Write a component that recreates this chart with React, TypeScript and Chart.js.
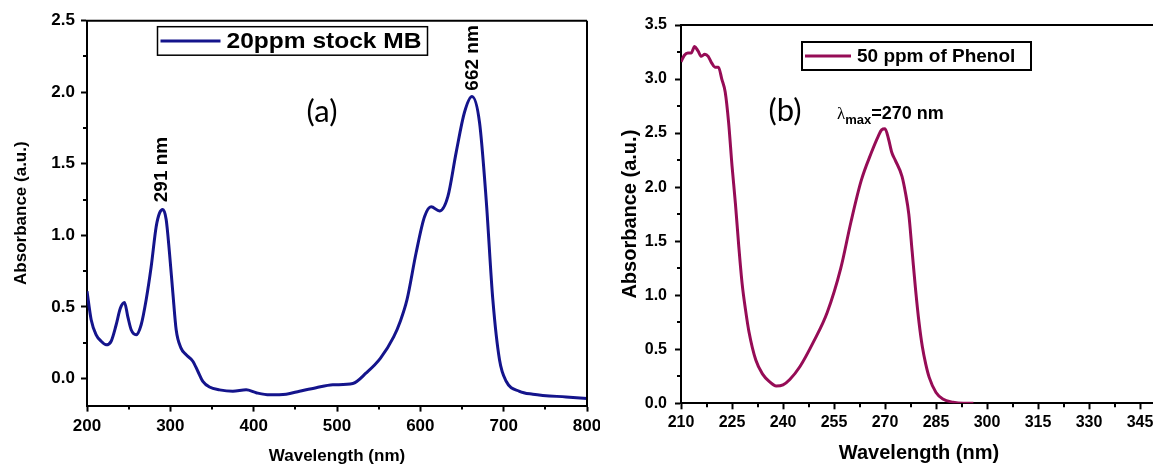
import React, { useEffect, useRef } from 'react';
import { Chart, registerables } from 'chart.js';

Chart.register(...registerables);

// ---------------- Data ----------------
// (a) 20 ppm stock methylene blue
const mbWavelengths = [200, 205, 211, 217, 223, 229, 235, 240, 245, 249, 253, 259, 265, 271, 277, 283, 287, 291, 295, 299, 303, 307, 313, 319, 327, 333, 339, 347, 359, 375, 391, 403, 419, 439, 455, 475, 495, 519, 535, 552, 568, 576, 584, 595, 605, 613, 623, 633, 643, 653, 662, 671, 679, 687, 695, 703, 719, 735, 775, 800];
const mbAbsorbance = [0.61, 0.41, 0.305, 0.26, 0.235, 0.26, 0.375, 0.49, 0.53, 0.43, 0.34, 0.305, 0.375, 0.55, 0.78, 1.06, 1.155, 1.18, 1.11, 0.876, 0.6, 0.34, 0.21, 0.165, 0.12, 0.05, -0.02, -0.06, -0.08, -0.09, -0.08, -0.1, -0.115, -0.11, -0.09, -0.065, -0.045, -0.035, 0.038, 0.14, 0.29, 0.4, 0.55, 0.88, 1.13, 1.2, 1.17, 1.27, 1.58, 1.86, 1.97, 1.79, 1.25, 0.55, 0.13, -0.02, -0.09, -0.11, -0.13, -0.14];
const mbXTicks = [200, 300, 400, 500, 600, 700, 800];
const mbXMinor = [250, 350, 450, 550, 650, 750];
const mbYTicks = [0, 0.5, 1.0, 1.5, 2.0, 2.5];
const mbYMinor = [0.25, 0.75, 1.25, 1.75, 2.25];

// (b) 50 ppm phenol
const phWavelengths = [210, 211, 212, 213, 214, 215, 216, 217, 218, 219, 220, 221, 222, 223, 224, 225, 226, 227, 228, 229, 230, 232, 234, 236, 238, 240, 242, 245, 249, 253, 257, 260, 263, 266, 268, 269, 270, 271, 272, 273, 275, 276, 277, 278, 279, 280, 281, 282, 283, 285, 287, 290, 293, 296];
const phAbsorbance = [3.16, 3.22, 3.24, 3.24, 3.3, 3.26, 3.21, 3.23, 3.21, 3.15, 3.11, 3.11, 3.0, 2.88, 2.6, 2.2, 1.85, 1.45, 1.1, 0.86, 0.66, 0.4, 0.27, 0.2, 0.16, 0.17, 0.22, 0.34, 0.57, 0.84, 1.25, 1.68, 2.06, 2.32, 2.47, 2.53, 2.54, 2.45, 2.32, 2.25, 2.1, 1.95, 1.75, 1.4, 1.05, 0.75, 0.52, 0.36, 0.24, 0.1, 0.04, 0.01, 0.0, 0.0];
const phXTicks = [210, 225, 240, 255, 270, 285, 300, 315, 330, 345];
const phXMinor = [217.5, 232.5, 247.5, 262.5, 277.5, 292.5, 307.5, 322.5, 337.5];
const phYTicks = [0, 0.5, 1.0, 1.5, 2.0, 2.5, 3.0, 3.5];
const phYMinor = [0.25, 0.75, 1.25, 1.75, 2.25, 2.75, 3.25];

const FAMILY = "'Liberation Sans', Arial, sans-serif";

type Note = { text: string; x: number; y: number; font: string; rotate?: boolean; lambda?: boolean };

type Panel = {
  xs: number[]; ys: number[]; label: string; color: string;
  xMin: number; xMax: number; yMin: number; yMax: number;
  xTicks: number[]; yTicks: number[]; xMinor: number[]; yMinor: number[];
  xDecimals: number;
  pad: { left: number; top: number; right: number; bottom: number };
  yAxisWidth: number; xAxisHeight: number;
  tickSize: number; titleSize: number;
  yTitlePad: number; xTitlePad: number; yTickPad: number; xTickPad: number;
  legend: { dx: number; dy: number; w: number; h: number; line: number; size: number; textW?: number; border: number };
  notes: Note[];
};

function makePlugin(p: Panel) {
  return {
    id: 'panelExtras',
    afterDraw(chart: any) {
      const { ctx, chartArea: a, scales } = chart;
      const sx = scales.x, sy = scales.y;
      ctx.save();
      ctx.strokeStyle = '#000';
      ctx.lineWidth = 2;
      ctx.beginPath();
      ctx.moveTo(a.left - 1, a.top);
      ctx.lineTo(a.right, a.top);
      ctx.moveTo(a.right, a.top);
      ctx.lineTo(a.right, a.bottom + 1);
      ctx.stroke();
      // minor ticks
      ctx.beginPath();
      for (const v of p.xMinor) {
        const px = Math.round(sx.getPixelForValue(v));
        ctx.moveTo(px, a.bottom);
        ctx.lineTo(px, a.bottom + 4);
      }
      for (const v of p.yMinor) {
        const py = Math.round(sy.getPixelForValue(v));
        ctx.moveTo(a.left, py);
        ctx.lineTo(a.left - 4, py);
      }
      ctx.stroke();

      // legend
      const ds = chart.data.datasets[0];
      const L = p.legend;
      const bx = a.left + L.dx, by = a.top + L.dy;
      ctx.fillStyle = '#fff';
      ctx.fillRect(bx, by, L.w, L.h);
      ctx.lineWidth = L.border;
      ctx.strokeStyle = '#000';
      ctx.strokeRect(bx, by, L.w, L.h);
      ctx.strokeStyle = ds.borderColor;
      ctx.lineWidth = 3;
      ctx.beginPath();
      ctx.moveTo(bx + 3, by + L.h / 2);
      ctx.lineTo(bx + 3 + L.line, by + L.h / 2);
      ctx.stroke();
      ctx.fillStyle = '#000';
      ctx.font = `bold ${L.size}px ${FAMILY}`;
      ctx.textBaseline = 'middle';
      ctx.textAlign = 'left';
      const tx = bx + 3 + L.line + 6;
      const mw = ctx.measureText(ds.label).width;
      const scaleX = L.textW ? L.textW / mw : 1;
      ctx.save();
      ctx.translate(tx, by + L.h / 2 + 1);
      ctx.scale(scaleX, 1);
      ctx.fillText(ds.label, 0, 0);
      ctx.restore();

      // annotations
      for (const n of p.notes) {
        const px = sx.getPixelForValue(n.x);
        const py = sy.getPixelForValue(n.y);
        ctx.fillStyle = '#000';
        if (n.lambda) {
          ctx.textBaseline = 'alphabetic';
          ctx.textAlign = 'left';
          ctx.font = `17px 'Liberation Serif', serif`;
          ctx.fillText('λ', px, py);
          const lw = ctx.measureText('λ').width;
          ctx.font = `bold 13px ${FAMILY}`;
          ctx.fillText('max', px + lw, py + 5);
          const mw2 = ctx.measureText('max').width;
          ctx.font = n.font;
          ctx.fillText(n.text, px + lw + mw2, py);
        } else if (n.rotate) {
          ctx.save();
          ctx.translate(px, py);
          ctx.rotate(-Math.PI / 2);
          ctx.font = n.font;
          ctx.textAlign = 'center';
          ctx.textBaseline = 'middle';
          ctx.fillText(n.text, 0, 0);
          ctx.restore();
        } else {
          ctx.font = n.font;
          ctx.textAlign = 'center';
          ctx.textBaseline = 'middle';
          ctx.fillText(n.text, px, py);
        }
      }
      ctx.restore();
    },
  };
}

function makeConfig(p: Panel): any {
  const tickFont = { family: FAMILY, size: p.tickSize, weight: 'bold' as const };
  const titleFont = { family: FAMILY, size: p.titleSize, weight: 'bold' as const };
  return {
    type: 'line',
    data: {
      datasets: [
        {
          label: p.label,
          data: p.xs.map((x, i) => ({ x, y: p.ys[i] })),
          borderColor: p.color,
          borderWidth: 3,
          pointRadius: 0,
          fill: false,
          cubicInterpolationMode: 'monotone',
        },
      ],
    },
    options: {
      responsive: false,
      animation: false,
      devicePixelRatio: 1,
      layout: { padding: p.pad },
      plugins: { legend: { display: false }, tooltip: { enabled: false } },
      events: [],
      scales: {
        x: {
          type: 'linear',
          min: p.xMin,
          max: p.xMax,
          afterBuildTicks: (s: any) => { s.ticks = p.xTicks.map((v) => ({ value: v })); },
          afterFit: (s: any) => { s.height = p.xAxisHeight; s.paddingLeft = 0; s.paddingRight = 0; },
          ticks: {
            color: '#000',
            font: tickFont,
            padding: p.xTickPad,
            maxRotation: 0,
            autoSkip: false,
            callback: (v: number) => v.toFixed(p.xDecimals),
          },
          grid: { display: true, drawOnChartArea: false, drawTicks: true, tickLength: 6, tickWidth: 2, tickColor: '#000' },
          border: { display: true, color: '#000', width: 2 },
          title: { display: true, text: 'Wavelength (nm)', color: '#000', font: titleFont, padding: { top: 0, bottom: p.xTitlePad } },
        },
        y: {
          type: 'linear',
          min: p.yMin,
          max: p.yMax,
          afterBuildTicks: (s: any) => { s.ticks = p.yTicks.map((v) => ({ value: v })); },
          afterFit: (s: any) => { s.width = p.yAxisWidth; s.paddingTop = 0; s.paddingBottom = 0; },
          ticks: {
            color: '#000',
            font: tickFont,
            padding: p.yTickPad,
            autoSkip: false,
            callback: (v: number) => v.toFixed(1),
          },
          grid: { display: true, drawOnChartArea: false, drawTicks: true, tickLength: 6, tickWidth: 2, tickColor: '#000' },
          border: { display: true, color: '#000', width: 2 },
          title: { display: true, text: 'Absorbance (a.u.)', color: '#000', font: titleFont, padding: { top: p.yTitlePad, bottom: 0 } },
        },
      },
    },
    plugins: [makePlugin(p)],
  };
}

const panelA: Panel = {
  xs: mbWavelengths, ys: mbAbsorbance, label: '20ppm stock MB', color: '#14148c',
  xMin: 200, xMax: 800, yMin: -0.19, yMax: 2.5,
  xTicks: mbXTicks, yTicks: mbYTicks, xMinor: mbXMinor, yMinor: mbYMinor, xDecimals: 0,
  pad: { left: 0, top: 20.7, right: 13, bottom: 0 },
  yAxisWidth: 87, xAxisHeight: 59.4,
  tickSize: 17, titleSize: 17,
  yTitlePad: 11.5, xTitlePad: -2, yTickPad: 6, xTickPad: 5,
  legend: { dx: 70.5, dy: 6, w: 270, h: 28.5, line: 60, size: 22, textW: 195, border: 1.5 },
  notes: [
    { text: '(a)', x: 482, y: 1.86, font: `31px Lato, 'Open Sans', sans-serif` },
    { text: '291 nm', x: 290, y: 1.46, font: `bold 19px ${FAMILY}`, rotate: true },
    { text: '662 nm', x: 663.5, y: 2.24, font: `bold 19px ${FAMILY}`, rotate: true },
  ],
};

const panelB: Panel = {
  xs: phWavelengths, ys: phAbsorbance, label: '50 ppm of Phenol', color: '#960c56',
  xMin: 210, xMax: 350, yMin: 0, yMax: 3.5,
  xTicks: phXTicks, yTicks: phYTicks, xMinor: phXMinor, yMinor: phYMinor, xDecimals: 0,
  pad: { left: 0, top: 25, right: 0, bottom: 0 },
  yAxisWidth: 81, xAxisHeight: 61.7,
  tickSize: 16, titleSize: 20,
  yTitlePad: 18, xTitlePad: 0, yTickPad: 8, xTickPad: 4,
  legend: { dx: 121, dy: 17, w: 229, h: 28, line: 46, size: 19, border: 2 },
  notes: [
    { text: '(b)', x: 240.6, y: 2.70, font: `31px Lato, 'Open Sans', sans-serif` },
    { text: '=270 nm', x: 255.9, y: 2.63, font: `bold 18px ${FAMILY}`, lambda: true },
  ],
};

function ChartPanel({ panel, left, width }: { panel: Panel; left: number; width: number }) {
  const ref = useRef<HTMLCanvasElement | null>(null);
  useEffect(() => {
    if (!ref.current) return;
    const chart = new Chart(ref.current, makeConfig(panel));
    return () => chart.destroy();
  }, [panel]);
  return (
    <div style={{ position: 'absolute', left, top: 0, width, height: 465 }}>
      <canvas ref={ref} width={width} height={465} style={{ display: 'block', width, height: 465 }} />
    </div>
  );
}

export default function App() {
  return (
    <div style={{ position: 'fixed', left: 0, top: 0, width: 1153, height: 465, overflow: 'hidden', background: '#fff' }}>
      <ChartPanel panel={panelA} left={0} width={600} />
      <ChartPanel panel={panelB} left={600} width={557} />
    </div>
  );
}
